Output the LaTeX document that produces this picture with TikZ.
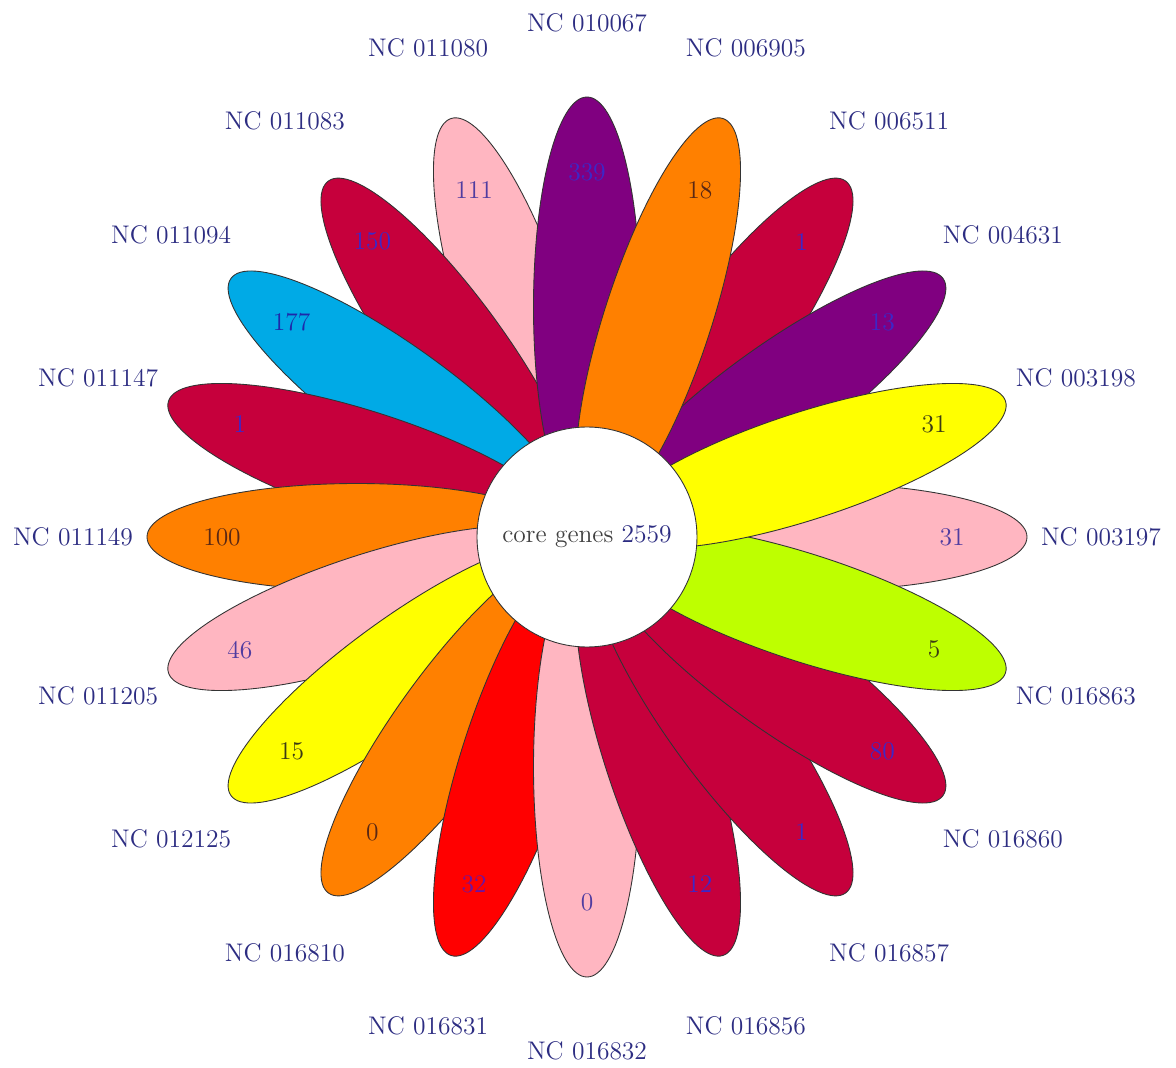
\documentclass[tikz,border=0pt]{standalone}
\definecolor{flcrimson}{HTML}{C6003C}
\definecolor{flpurple}{HTML}{800080}
\definecolor{florange}{HTML}{FF8000}
\definecolor{flpink}{HTML}{FFB6C1}
\definecolor{flyellow}{HTML}{FFFF00}
\definecolor{fllime}{HTML}{BEFF00}
\definecolor{flcyan}{HTML}{00AAE6}
\definecolor{flred}{HTML}{FF0000}
\definecolor{labblue}{RGB}{45,45,130}
\definecolor{numblue}{RGB}{60,40,200}
\definecolor{numpink}{RGB}{80,60,160}
\definecolor{numolive}{RGB}{60,60,20}
\definecolor{numbrown}{RGB}{90,40,20}
\definecolor{numnavy}{RGB}{30,40,170}
\definecolor{numred}{RGB}{110,20,160}

\begin{document}
\begin{tikzpicture}[
  font=\fontsize{14.5}{17}\selectfont,
  petal/.style={draw=black!80, line width=0.5pt},
  lab/.style={text=labblue},
  core/.style={circle, draw=black!80, fill=white, minimum size=4.4cm, line width=0.5pt}
]

\useasboundingbox (-11.74,-10.62) rectangle (11.78,10.74);

% Petals, listed in the order they are stacked
\foreach \ang/\nm/\val/\col/\tcol in {
    0/003197/31/flpink/numpink,
    108/011080/111/flpink/numpink,
    126/011083/150/flcrimson/numblue,
    144/011094/177/flcyan/numnavy,
    162/011147/1/flcrimson/numblue,
    180/011149/100/florange/numbrown,
    -162/011205/46/flpink/numpink,
    -144/012125/15/flyellow/numolive,
    -126/016810/0/florange/numbrown,
    -108/016831/32/flred/numred,
    -90/016832/0/flpink/numpink,
    -72/016856/12/flcrimson/numblue,
    -54/016857/1/flcrimson/numblue,
    -36/016860/80/flcrimson/numblue,
    -18/016863/5/fllime/numolive,
    54/006511/1/flcrimson/numblue,
    36/004631/13/flpurple/numblue,
    18/003198/31/flyellow/numolive,
    90/010067/339/flpurple/numblue,
    72/006905/18/florange/numbrown}{
  \draw[petal, fill=\col, rotate=\ang] (4.6,0) ellipse [x radius=4.2, y radius=1.07];
  \node[text=\tcol] (v\nm) at (\ang:7.3) {\val};
  \node[lab] (n\nm) at (\ang:10.28) {NC \nm};
}

% Core in the middle
\node[core] (core) at (0,0) {\textcolor{black!75}{core genes} \textcolor{labblue}{2559}};

\end{tikzpicture}
\end{document}
